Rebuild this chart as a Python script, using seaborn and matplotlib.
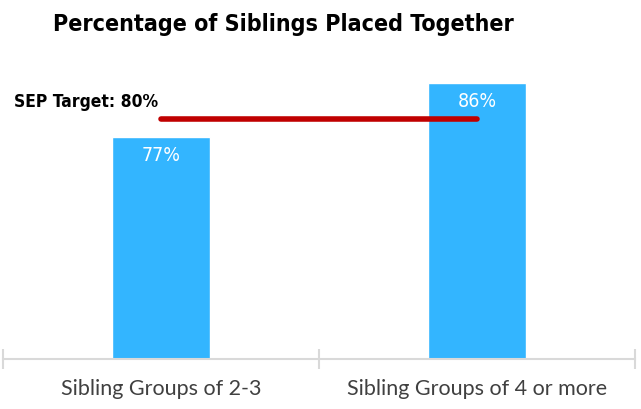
import seaborn as sns
import pandas as pd
import matplotlib.pyplot as plt

groups = ["Sibling Groups of 2-3", "Sibling Groups of 4 or more"]
pct = [77, 86]
target = 80

df = pd.DataFrame({"group": groups, "pct": pct})

sns.set_style("white")
fig = plt.figure(figsize=(6.41, 4.10), dpi=100)
ax = fig.add_axes([3 / 641, 1 - 360 / 410, 632 / 641, 300 / 410])

sns.barplot(data=df, x="group", y="pct", color="#33B5FF", saturation=1, width=0.31, ax=ax)
ax.set_ylim(40, 90)
ax.set_xlim(-0.5, 1.5)

narrow = dict(family="DejaVu Sans", fontstretch="condensed")

# value labels inside bars
for i, v in enumerate(pct):
    ax.text(i, v - 3, f"{v}%", ha="center", va="center", color="white",
            fontsize=14, **narrow)

# target line across the two bars
ax.plot([0, 1], [target, target], color="#C00000", lw=4, solid_capstyle="round")
ax.text(-0.465, target + 3, f"SEP Target: {target}%", ha="left", va="center",
        fontsize=12.5, fontweight="bold", color="black", **narrow)

fig.text((55 + 512) / 2 / 641, 1 - 24 / 410, "Percentage of Siblings Placed Together",
         ha="center", va="center", fontsize=16.7, fontweight="bold", color="black", **narrow)

for s in ["top", "right", "left"]:
    ax.spines[s].set_visible(False)
ax.spines["bottom"].set_color("#D9D9D9")
ax.spines["bottom"].set_linewidth(1.5)
ax.set_yticks([])
ax.set_xticks([-0.5, 0.5, 1.5], minor=False)
ax.set_xticklabels([])
ax.tick_params(axis="x", which="major", bottom=True, direction="inout", length=14,
               width=1.5, color="#D9D9D9")
ax.set_xticks([0, 1], minor=True)
ax.set_xticklabels(groups, minor=True, fontsize=15.5, color="#404040",
                   family=["Lato", "DejaVu Sans"])
ax.tick_params(axis="x", which="minor", bottom=True, length=0, pad=14)
ax.set_xlabel("")
ax.set_ylabel("")

fig.savefig("out.png", dpi=100)
